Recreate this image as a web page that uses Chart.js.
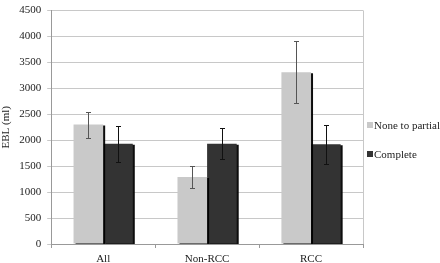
<!DOCTYPE html>
<html>
<head>
<meta charset="utf-8">
<script src="https://cdn.jsdelivr.net/npm/chart.js@4/dist/chart.umd.min.js"></script>
<style>
  body { margin: 0; background: #fff; }
</style>
</head>
<body>
<canvas id="chart" width="440" height="263"></canvas>
<script>
var categories = ["All", "Non-RCC", "RCC"];
var seriesNames = ["None to partial", "Complete"];
var partialValues = [2300, 1290, 3310];
var partialErrors = [250, 220, 600];
var completeValues = [1930, 1930, 1920];
var completeErrors = [350, 300, 380];
var yTicks = [0, 500, 1000, 1500, 2000, 2500, 3000, 3500, 4000, 4500];

var colors = ["#c9c9c9", "#333333"];
var errColors = ["#555555", "#111111"];
var font = "'Liberation Serif', 'DejaVu Serif', serif";

// bar shadow, like the spreadsheet look
var shadowPlugin = {
  id: "shadow",
  beforeDatasetDraw: function(chart) {
    var ctx = chart.ctx;
    ctx.save();
    ctx.shadowColor = "rgba(0,0,0,0.95)";
    ctx.shadowOffsetX = 2;
    ctx.shadowOffsetY = 1;
    ctx.shadowBlur = 0;
  },
  afterDatasetDraw: function(chart) {
    chart.ctx.restore();
  }
};

// error bars + right border of plot area
var errorPlugin = {
  id: "errors",
  afterDatasetsDraw: function(chart) {
    var ctx = chart.ctx;
    var y = chart.scales.y;
    var errs = [partialErrors, completeErrors];
    chart.data.datasets.forEach(function(ds, d) {
      var meta = chart.getDatasetMeta(d);
      meta.data.forEach(function(bar, i) {
        var v = ds.data[i];
        var top = Math.round(y.getPixelForValue(v + errs[d][i]));
        var bot = Math.round(y.getPixelForValue(v - errs[d][i]));
        var x = Math.round(bar.x);
        ctx.save();
        ctx.strokeStyle = errColors[d];
        ctx.lineWidth = 1;
        ctx.beginPath();
        ctx.moveTo(x + 0.5, top);
        ctx.lineTo(x + 0.5, bot);
        ctx.moveTo(x - 2, top + 0.5);
        ctx.lineTo(x + 3, top + 0.5);
        ctx.moveTo(x - 2, bot + 0.5);
        ctx.lineTo(x + 3, bot + 0.5);
        ctx.stroke();
        ctx.restore();
      });
    });
    var a = chart.chartArea;
    ctx.save();
    ctx.strokeStyle = "#c8c8c8";
    ctx.lineWidth = 1;
    ctx.beginPath();
    ctx.moveTo(Math.round(a.right) + 0.5, a.top);
    ctx.lineTo(Math.round(a.right) + 0.5, a.bottom);
    ctx.stroke();
    ctx.restore();
  }
};

// legend to the right of the plot
var legendPlugin = {
  id: "sideLegend",
  afterDraw: function(chart) {
    var ctx = chart.ctx;
    var x = Math.round(chart.chartArea.right) + 4;
    var rows = [125, 154];
    ctx.save();
    ctx.font = "11px " + font;
    ctx.textBaseline = "middle";
    seriesNames.forEach(function(name, i) {
      ctx.fillStyle = colors[i];
      ctx.fillRect(x, rows[i] - 3, 6, 6);
      ctx.fillStyle = "#222";
      ctx.fillText(name, x + 7, rows[i] + 1);
    });
    ctx.restore();
  }
};

var chart = new Chart(document.getElementById("chart"), {
  type: "bar",
  data: {
    labels: categories,
    datasets: [
      { label: seriesNames[0], data: partialValues, backgroundColor: colors[0] },
      { label: seriesNames[1], data: completeValues, backgroundColor: colors[1] }
    ]
  },
  options: {
    responsive: false,
    animation: false,
    categoryPercentage: 0.57,
    barPercentage: 1,
    layout: { padding: { top: 0, right: 77, bottom: -8, left: 0 } },
    plugins: {
      legend: { display: false },
      tooltip: { enabled: false }
    },
    scales: {
      x: {
        grid: { display: true, drawOnChartArea: false, offset: true, tickLength: 4, color: "#999" },
        border: { color: "#999" },
        ticks: { font: { family: font, size: 11, lineHeight: 1 }, color: "#222", padding: 6 }
      },
      y: {
        min: 0,
        max: 4500,
        afterBuildTicks: function(axis) {
          axis.ticks = yTicks.map(function(v) { return { value: v }; });
        },
        grid: { color: "#c8c8c8", tickLength: 4 },
        border: { color: "#999" },
        ticks: {
          font: { family: font, size: 11, lineHeight: 0.8 }, color: "#222", padding: 6,
          callback: function(v) { return String(v); }
        },
        title: { display: true, text: "EBL (ml)", font: { family: font, size: 11 }, color: "#222", padding: 0 }
      }
    }
  },
  plugins: [shadowPlugin, errorPlugin, legendPlugin]
});
</script>
</body>
</html>
